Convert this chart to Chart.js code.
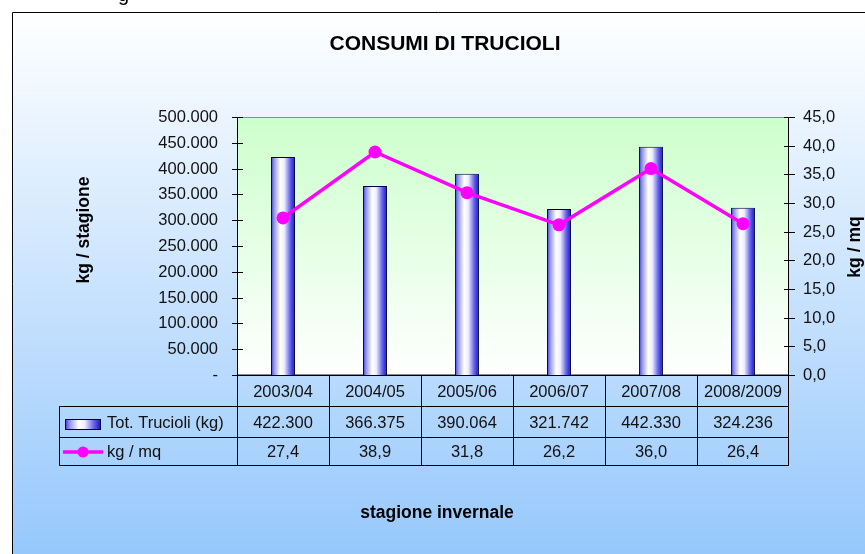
<!DOCTYPE html>
<html>
<head>
<meta charset="utf-8">
<script src="https://cdn.jsdelivr.net/npm/chart.js@4"></script>
<style>
  html, body { margin: 0; padding: 0; background: #fff; }
  canvas { display: block; }
</style>
</head>
<body>
<canvas id="chart" width="865" height="554"></canvas>
<script>
const seasons = ["2003/04", "2004/05", "2005/06", "2006/07", "2007/08", "2008/2009"];
const totTrucioli = [422300, 366375, 390064, 321742, 442330, 324236];
const kgPerMq = [27.4, 38.9, 31.8, 26.2, 36.0, 26.4];
const leftTicks = [0, 50000, 100000, 150000, 200000, 250000, 300000, 350000, 400000, 450000, 500000];
const rightTicks = [0, 5, 10, 15, 20, 25, 30, 35, 40, 45];

const FONT = "'Liberation Sans', Arial, sans-serif";
const BAR_PCT = 0.26;

function fmtThousands(n) {
    return String(Math.round(n)).replace(/\B(?=(\d{3})+(?!\d))/g, ".");
}
function fmtDecimal(n) {
    return n.toFixed(1).replace(".", ",");
}

function cylinder(ctx, x0, x1) {
    const g = ctx.createLinearGradient(x0, 0, x1, 0);
    g.addColorStop(0, "#3030d6");
    g.addColorStop(0.12, "#9090ee");
    g.addColorStop(0.38, "#ffffff");
    g.addColorStop(0.55, "#eeeeff");
    g.addColorStop(0.8, "#6565e8");
    g.addColorStop(1, "#1010cc");
    return g;
}

function barFill(context) {
    const chart = context.chart;
    const xs = chart.scales.x;
    if (!chart.chartArea || !xs || context.dataIndex === undefined) return "#5555dd";
    const cx = xs.getPixelForValue(context.dataIndex);
    const half = (xs.width / seasons.length) * BAR_PCT / 2;
    return cylinder(chart.ctx, cx - half, cx + half);
}

// frame, plot area, axes and data table drawn Excel-style
const excelFrame = {
    id: "excelFrame",
    beforeDraw(chart) {
        const ctx = chart.ctx;
        ctx.save();
        ctx.fillStyle = "#ffffff";
        ctx.fillRect(0, 0, chart.width, chart.height);

        const bg = ctx.createLinearGradient(0, 12, 0, 554);
        bg.addColorStop(0, "#ffffff");
        bg.addColorStop(1, "#96c8fc");
        ctx.fillStyle = bg;
        ctx.fillRect(12, 12, chart.width, chart.height);

        ctx.strokeStyle = "#000";
        ctx.lineWidth = 1;
        ctx.beginPath();
        ctx.moveTo(12.5, chart.height);
        ctx.lineTo(12.5, 12.5);
        ctx.lineTo(chart.width, 12.5);
        ctx.stroke();

        // text cut off at the top of the page
        ctx.fillStyle = "#000";
        ctx.font = "20px " + FONT;
        ctx.textBaseline = "alphabetic";
        ctx.fillText("g", 118, 0.5);

        const a = chart.chartArea;
        const pg = ctx.createLinearGradient(0, a.top, 0, a.bottom);
        pg.addColorStop(0, "#ccffcc");
        pg.addColorStop(1, "#ffffff");
        ctx.fillStyle = pg;
        ctx.fillRect(a.left, a.top, a.right - a.left, a.bottom - a.top);
        ctx.strokeStyle = "#8a8a8a";
        ctx.strokeRect(a.left + 0.5, a.top + 0.5, a.right - a.left - 1, a.bottom - a.top - 1);
        ctx.restore();
    },
    afterDatasetsDraw(chart) {
        const ctx = chart.ctx;
        const a = chart.chartArea;
        const xs = chart.scales.x, ys = chart.scales.y, ys1 = chart.scales.y1;
        ctx.save();
        ctx.strokeStyle = "#000";
        ctx.lineWidth = 1;
        ctx.fillStyle = "#111";

        // axis lines
        ctx.beginPath();
        ctx.moveTo(Math.round(a.left) + 0.5, a.top);
        ctx.lineTo(Math.round(a.left) + 0.5, a.bottom);
        ctx.moveTo(Math.round(a.right) - 0.5, a.top);
        ctx.lineTo(Math.round(a.right) - 0.5, a.bottom);
        ctx.stroke();

        // left ticks
        ctx.font = "16.5px " + FONT;
        ctx.textAlign = "right";
        ctx.textBaseline = "middle";
        leftTicks.forEach(function (v) {
            const y = Math.round(ys.getPixelForValue(v)) + 0.5;
            ctx.beginPath();
            ctx.moveTo(a.left - 5, y);
            ctx.lineTo(a.left + 6, y);
            ctx.stroke();
            ctx.fillText(v === 0 ? "-" : fmtThousands(v), 218, y);
        });

        // right ticks
        ctx.textAlign = "left";
        rightTicks.forEach(function (v) {
            const y = Math.round(ys1.getPixelForValue(v)) + 0.5;
            ctx.beginPath();
            ctx.moveTo(a.right - 5, y);
            ctx.lineTo(a.right + 6, y);
            ctx.stroke();
            ctx.fillText(fmtDecimal(v), 803, y);
        });

        // data table
        const colW = xs.width / seasons.length;
        const rowTop = Math.round(a.bottom) + 0.5;
        const r1 = 406.5, r2 = 437.5, r3 = 465.5;
        const legLeft = 59.5;
        ctx.beginPath();
        ctx.moveTo(a.left - 5, rowTop);
        ctx.lineTo(a.right, rowTop);
        ctx.moveTo(legLeft, r1); ctx.lineTo(a.right, r1);
        ctx.moveTo(legLeft, r2); ctx.lineTo(a.right, r2);
        ctx.moveTo(legLeft, r3); ctx.lineTo(a.right, r3);
        ctx.moveTo(legLeft, r1); ctx.lineTo(legLeft, r3);
        for (let i = 0; i <= seasons.length; i++) {
            const x = Math.round(a.left + i * colW) + 0.5 - (i === seasons.length ? 1 : 0);
            ctx.moveTo(x, rowTop);
            ctx.lineTo(x, r3);
        }
        ctx.stroke();

        ctx.textAlign = "center";
        seasons.forEach(function (s, i) {
            const cx = xs.getPixelForValue(i);
            ctx.fillText(s, cx, (rowTop + r1) / 2 + 1);
            ctx.fillText(fmtThousands(totTrucioli[i]), cx, (r1 + r2) / 2 + 1);
            ctx.fillText(fmtDecimal(kgPerMq[i]), cx, (r2 + r3) / 2 + 1);
        });

        // legend keys
        const barDs = chart.data.datasets[1], lineDs = chart.data.datasets[0];
        ctx.fillStyle = cylinder(ctx, 65, 101);
        ctx.fillRect(65, 419, 36, 11);
        ctx.strokeStyle = "#000040";
        ctx.strokeRect(65.5, 419.5, 35, 10);
        ctx.strokeStyle = lineDs.borderColor;
        ctx.lineWidth = lineDs.borderWidth;
        ctx.beginPath();
        ctx.moveTo(63, 452);
        ctx.lineTo(103, 452);
        ctx.stroke();
        ctx.fillStyle = lineDs.borderColor;
        ctx.beginPath();
        ctx.arc(83, 452, 5.5, 0, Math.PI * 2);
        ctx.fill();
        ctx.fillStyle = "#111";
        ctx.textAlign = "left";
        ctx.fillText(barDs.label, 107, (r1 + r2) / 2 + 1);
        ctx.fillText(lineDs.label, 107, (r2 + r3) / 2 + 1);

        // titles
        ctx.fillStyle = "#000";
        ctx.textAlign = "center";
        ctx.font = "bold 21px " + FONT;
        ctx.fillText("CONSUMI DI TRUCIOLI", 445, 44);
        ctx.font = "bold 17.5px " + FONT;
        ctx.fillText("stagione invernale", 437, 513);
        ctx.save();
        ctx.translate(84, 230);
        ctx.rotate(-Math.PI / 2);
        ctx.fillText("kg / stagione", 0, 0);
        ctx.restore();
        ctx.save();
        ctx.translate(855, 247);
        ctx.rotate(-Math.PI / 2);
        ctx.fillText("kg / mq", 0, 0);
        ctx.restore();

        ctx.restore();
    }
};

const ctx = document.getElementById("chart").getContext("2d");
new Chart(ctx, {
    type: "bar",
    data: {
        labels: seasons,
        datasets: [{
            type: "line",
            label: "kg / mq",
            data: kgPerMq,
            yAxisID: "y1",
            borderColor: "#ff00ff",
            backgroundColor: "#ff00ff",
            borderWidth: 3.5,
            pointRadius: 6.5,
            pointHoverRadius: 6.5,
            pointBorderWidth: 0,
            pointBackgroundColor: "#ff00ff",
            tension: 0,
            order: 0
        }, {
            type: "bar",
            label: "Tot. Trucioli (kg)",
            data: totTrucioli,
            yAxisID: "y",
            backgroundColor: barFill,
            borderColor: "#000040",
            borderWidth: 1,
            barPercentage: BAR_PCT,
            categoryPercentage: 1,
            order: 1
        }]
    },
    options: {
        responsive: false,
        animation: false,
        layout: { padding: { left: 237, top: 117, right: 76, bottom: 179 } },
        plugins: {
            legend: { display: false },
            tooltip: { enabled: false }
        },
        scales: {
            x: { display: false, offset: true },
            y: { display: false, min: 0, max: 500000 },
            y1: { display: false, position: "right", min: 0, max: 45 }
        }
    },
    plugins: [excelFrame]
});
</script>
</body>
</html>
